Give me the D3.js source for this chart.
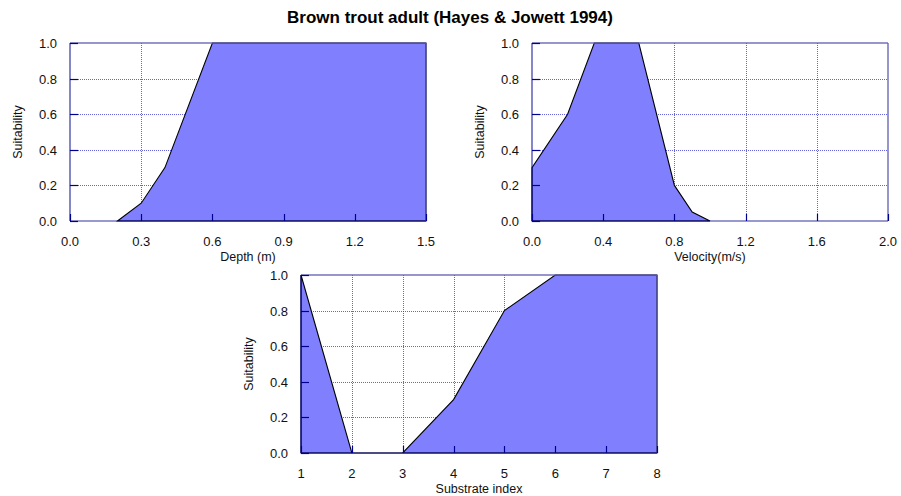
<!DOCTYPE html>
<html>
<head>
<meta charset="utf-8">
<script src="https://cdn.jsdelivr.net/npm/d3@7"></script>
<style>
  body { margin: 0; background: #fff; }
  text { font-family: "Liberation Sans", Arial, sans-serif; }
</style>
</head>
<body>
<div id="chart"></div>
<script>
// habitat suitability curves
var depthX = [0.2, 0.3, 0.4, 0.6, 1.5];
var depthY = [0.0, 0.1, 0.3, 1.0, 1.0];
var velX = [0.0, 0.2, 0.35, 0.6, 0.8, 0.9, 1.0];
var velY = [0.3, 0.6, 1.0, 1.0, 0.2, 0.05, 0.0];
var subX = [1, 2, 3, 4, 5, 6, 8];
var subY = [1.0, 0.0, 0.0, 0.3, 0.8, 1.0, 1.0];

var depthTicks = [0.0, 0.3, 0.6, 0.9, 1.2, 1.5];
var velTicks = [0.0, 0.4, 0.8, 1.2, 1.6, 2.0];
var subTicks = [1, 2, 3, 4, 5, 6, 7, 8];
var suitTicks = [0.0, 0.2, 0.4, 0.6, 0.8, 1.0];

var width = 901, height = 496;

var svg = d3.select("#chart")
    .append("svg")
    .attr("width", width)
    .attr("height", height);

svg.append("text")
    .attr("x", 450)
    .attr("y", 23)
    .attr("text-anchor", "middle")
    .style("font-size", "17px")
    .style("font-weight", "bold")
    .text("Brown trout adult (Hayes & Jowett 1994)");

function panel(left, top, xs, ys, ticks, fmt, xlabel) {
    var w = 356, h = 178;
    var x = d3.scaleLinear().domain([ticks[0], ticks[ticks.length - 1]]).range([left, left + w]);
    var y = d3.scaleLinear().domain([0, 1]).range([top + h, top]);
    var px = v => Math.round(v) + 0.5;

    var g = svg.append("g");

    // grid
    g.selectAll(".vgrid")
        .data(ticks.slice(1, -1))
        .enter()
        .append("line")
        .attr("x1", d => px(x(d))).attr("x2", d => px(x(d)))
        .attr("y1", top).attr("y2", top + h)
        .attr("stroke", "#3030d8")
        .attr("stroke-opacity", 0.75)
        .attr("stroke-width", 1)
        .attr("stroke-dasharray", "1,1");
    g.selectAll(".hgrid")
        .data(suitTicks.slice(1, -1))
        .enter()
        .append("line")
        .attr("x1", left).attr("x2", left + w)
        .attr("y1", d => px(y(d))).attr("y2", d => px(y(d)))
        .attr("stroke", "#3030d8")
        .attr("stroke-opacity", 0.75)
        .attr("stroke-width", 1)
        .attr("stroke-dasharray", "1,1");

    // filled curve
    var pts = xs.map((d, i) => [d, ys[i]]);
    var area = d3.area()
        .x(d => x(d[0]))
        .y0(y(0))
        .y1(d => y(d[1]));
    var ptsClosed = [[xs[0], 0]].concat(pts).concat([[xs[xs.length - 1], 0]]);
    g.append("path")
        .attr("d", area(pts))
        .attr("fill", "#8080ff");
    g.append("path")
        .attr("d", d3.line().x(d => x(d[0])).y(d => y(d[1]))(ptsClosed) + "Z")
        .attr("fill", "none")
        .attr("stroke", "#000")
        .attr("stroke-width", 1.1);

    // frame
    g.append("line")
        .attr("x1", left).attr("x2", left + w).attr("y1", top).attr("y2", top)
        .attr("stroke", "#5a5ab0").attr("stroke-width", 1.5).attr("stroke-opacity", 0.85);
    g.append("line")
        .attr("x1", left + w).attr("x2", left + w).attr("y1", top).attr("y2", top + h)
        .attr("stroke", "#5a5ab0").attr("stroke-width", 1.5).attr("stroke-opacity", 0.85);
    g.append("line")
        .attr("x1", left).attr("x2", left).attr("y1", top).attr("y2", top + h)
        .attr("stroke", "#000090").attr("stroke-width", 1.2).attr("stroke-opacity", 0.8);
    g.append("line")
        .attr("x1", left).attr("x2", left + w).attr("y1", top + h).attr("y2", top + h)
        .attr("stroke", "#000090").attr("stroke-width", 1.2).attr("stroke-opacity", 0.8);

    // inward ticks
    g.selectAll(".xt")
        .data(ticks)
        .enter()
        .append("line")
        .attr("x1", d => px(x(d))).attr("x2", d => px(x(d)))
        .attr("y1", top + h).attr("y2", top + h - 7)
        .attr("stroke", "#000090").attr("stroke-width", 1.2);
    g.selectAll(".yt")
        .data(suitTicks)
        .enter()
        .append("line")
        .attr("x1", left).attr("x2", left + 8)
        .attr("y1", d => px(y(d))).attr("y2", d => px(y(d)))
        .attr("stroke", "#000090").attr("stroke-width", 1.2);

    // tick labels
    g.selectAll(".xl")
        .data(ticks)
        .enter()
        .append("text")
        .attr("x", d => x(d))
        .attr("y", top + h + 25)
        .attr("text-anchor", "middle")
        .style("font-size", "13px")
        .style("fill", "#111")
        .text(fmt);
    g.selectAll(".yl")
        .data(suitTicks)
        .enter()
        .append("text")
        .attr("x", left - 13)
        .attr("y", d => y(d) + 5)
        .attr("text-anchor", "end")
        .style("font-size", "13px")
        .style("fill", "#111")
        .text(d => d.toFixed(1));

    // axis labels
    g.append("text")
        .attr("x", left + w / 2)
        .attr("y", top + h + 40)
        .attr("text-anchor", "middle")
        .style("font-size", "12.5px")
        .style("fill", "#111")
        .text(xlabel);
    g.append("text")
        .attr("transform", "translate(" + (left - 48) + "," + (top + h / 2) + ") rotate(-90)")
        .attr("text-anchor", "middle")
        .style("font-size", "12.5px")
        .style("fill", "#111")
        .text("Suitability");
}

panel(70, 43, depthX, depthY, depthTicks, d => d.toFixed(1), "Depth (m)");
panel(532, 43, velX, velY, velTicks, d => d.toFixed(1), "Velocity(m/s)");
panel(301, 275, subX, subY, subTicks, d => d, "Substrate index");
</script>
</body>
</html>
